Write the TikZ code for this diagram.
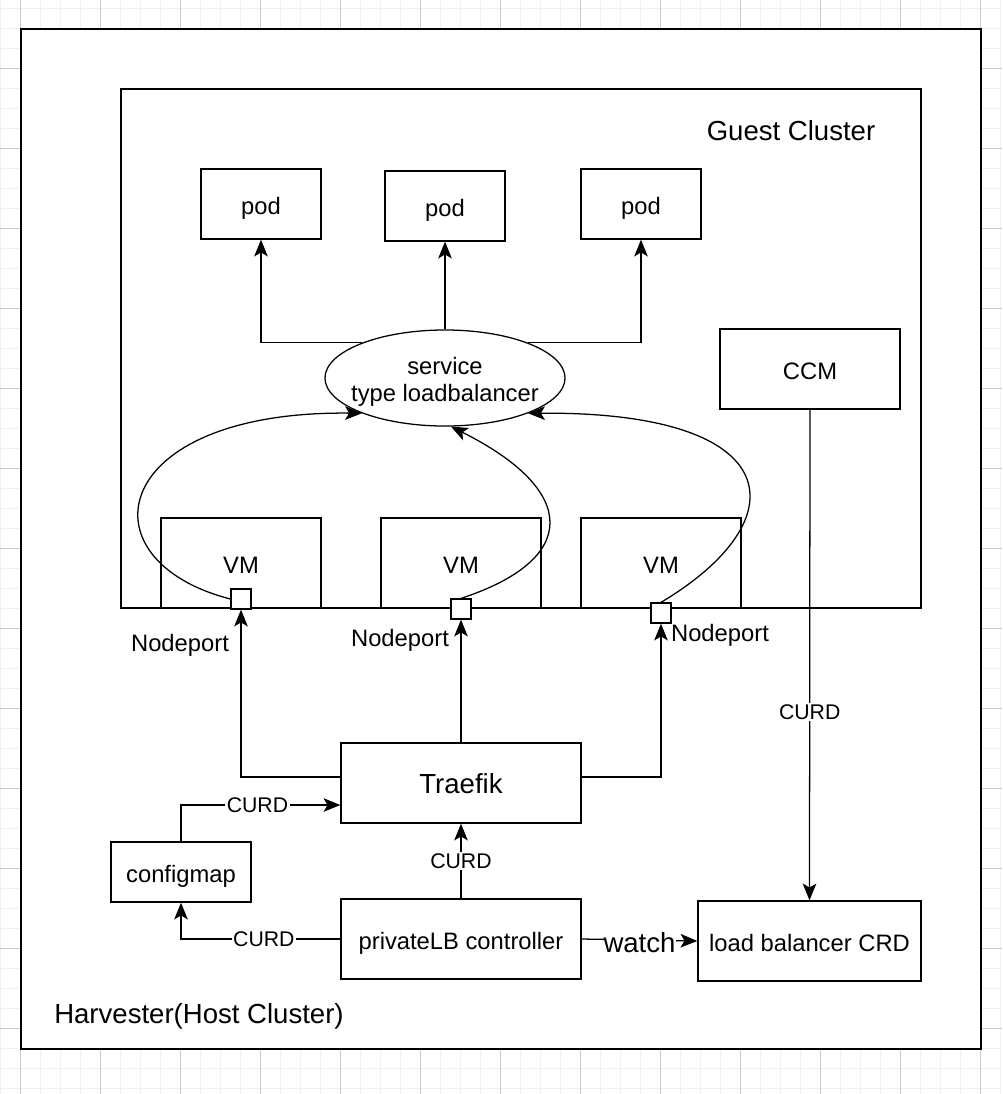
\documentclass[tikz,border=0pt]{standalone}
\usepackage{fontspec}
\setmainfont{Liberation Sans}
\usetikzlibrary{arrows.meta}
\usetikzlibrary{positioning}
\usetikzlibrary{shapes.geometric}
\tikzset{
    box/.style = {draw,fill=white,line width=0.9pt,inner sep=0,align=center,text height=19pt,text depth=3.5pt,font=\fontsize{16.9}{19.2}\selectfont},
    port/.style = {draw,fill=white,line width=0.9pt,minimum size=0.5cm,inner sep=0},
    link/.style = {line width=0.9pt,-{Stealth[length=0.42cm,width=0.34cm,inset=0.1cm]}},
    curd/.style = {fill=white,inner sep=1pt,font=\fontsize{15.1}{18}\selectfont},
    lbl/.style = {inner sep=0,font=\fontsize{16.9}{19.2}\selectfont},
    biglbl/.style = {inner sep=1pt,font=\fontsize{19.6}{23}\selectfont},
    gridminor/.style = {draw=black!6,line width=0.7pt},
    gridmajor/.style = {draw=black!20,line width=0.7pt}
}

\begin{document}
\begin{tikzpicture}[x=0.025cm,y=-0.025cm]
        \useasboundingbox (0,0) rectangle (1002,1094);
        % Grid
        \foreach \x in {0,20,...,1000}
            \draw[gridminor] (\x,0) -- (\x,1094);
        \foreach \y in {8,28,...,1088}
            \draw[gridminor] (0,\y) -- (1002,\y);
        \foreach \x in {20,100,...,980}
            \draw[gridmajor] (\x,0) -- (\x,1094);
        \foreach \y in {68,148,...,1028}
            \draw[gridmajor] (0,\y) -- (1002,\y);
        % Clusters
        \draw[line width=1.4pt,fill=white] (21,29) rectangle (981,1049);
        \draw[line width=1.1pt] (121,89) rectangle (921,608);
        \node[biglbl] (guest) at (791,131) {Guest Cluster};
        \node[biglbl] (host) at (199,1016) {Harvester(Host Cluster)};
        % Guest nodes
        \node[box,minimum width=3cm,minimum height=1.75cm] (pod1) at (261,204) {pod};
        \node[box,minimum width=3cm,minimum height=1.75cm] (pod2) at (445,206) {pod};
        \node[box,minimum width=3cm,minimum height=1.75cm] (pod3) at (641,204) {pod};
        \node[draw,fill=white,line width=0.9pt,ellipse,inner sep=0,minimum width=6cm,minimum height=2.4cm,
            label={[lbl,align=center,yshift=-0.1cm]center:service\\type loadbalancer}] (svc) at (445,378) {};
        \node[box,minimum width=4.5cm,minimum height=2cm] (ccm) at (810,369) {CCM};
        \node[box,minimum width=4cm,minimum height=2.25cm] (vm1) at (241,563) {VM};
        \node[box,minimum width=4cm,minimum height=2.25cm] (vm2) at (461,563) {VM};
        \node[box,minimum width=4cm,minimum height=2.25cm] (vm3) at (661,563) {VM};
        % Nodeports
        \node[port] (np1) at (241,599) {};
        \node[port] (np2) at (461,609) {};
        \node[port] (np3) at (661,613) {};
        \node[lbl] (np1lbl) at (180,645) {Nodeport};
        \node[lbl] (np2lbl) at (400,640) {Nodeport};
        \node[lbl] (np3lbl) at (720,635) {Nodeport};
        % Host nodes
        \node[box,minimum width=6cm,minimum height=2cm,font=\fontsize{19.6}{23}\selectfont] (traefik) at (461,783) {Traefik};
        \node[box,minimum width=3.5cm,minimum height=1.5cm] (cfg) at (181,872) {configmap};
        \node[box,minimum width=6cm,minimum height=2cm] (plb) at (461,939) {privateLB controller};
        \node[box,minimum width=5.575cm,minimum height=2cm] (lbcrd) at (809.5,941) {load balancer CRD};
        % Service to pods
        \draw[link] (svc.157) -| (pod1);
        \draw[link] (svc.north) -- (pod2);
        \draw[link] (svc.23) -| (pod3);
        % Nodeports to service
        \draw[link] (np1.west) .. controls +(-151,-39) and +(-253,-3) .. (svc.203);
        \draw[link] (np2.north) .. controls +(119,-39) and +(128,64) .. (svc.277);
        \draw[link] (np3.north) .. controls +(139,-83) and +(260,-2) .. (svc.337);
        % Traefik to nodeports
        \draw[link] ([yshift=0.15cm]traefik.west) -| (np1);
        \draw[link] (traefik.north) -- (np2);
        \draw[link] ([yshift=0.15cm]traefik.east) -| (np3);
        % CURD / watch
        \draw[link] (cfg.north) |- node[curd,pos=0.74] {CURD} ([yshift=-0.55cm]traefik.west);
        \draw[link] (plb.north) -- node[curd] {CURD} (traefik.south);
        \draw[link] (plb.west) -| node[curd,pos=0.24] {CURD} (cfg.south);
        \draw[link] (plb.east) -- node[biglbl,fill=white,inner sep=0,yshift=-0.06cm] {watch} (lbcrd.west);
        \draw[link] (ccm.south) -- node[curd,pos=0.616] {CURD} (lbcrd.north);
\end{tikzpicture}
\end{document}
